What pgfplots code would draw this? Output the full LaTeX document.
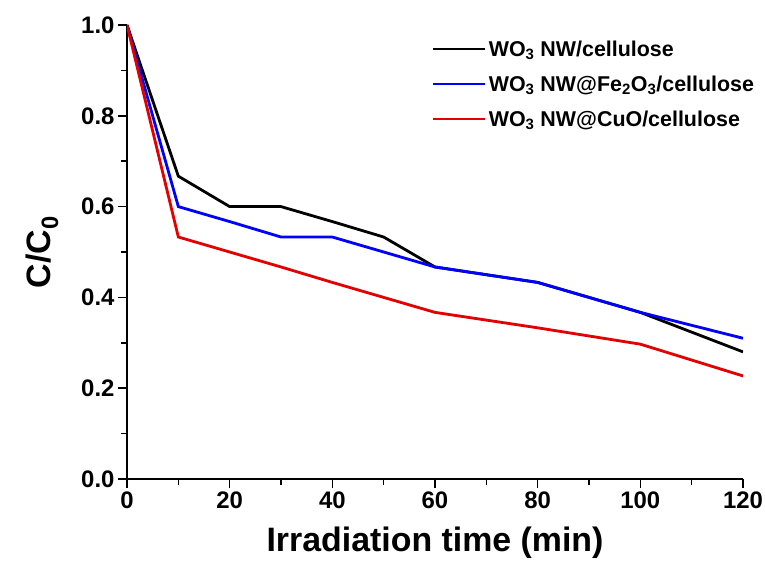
\documentclass[border=0pt]{standalone}
\usepackage{pgfplots}
\pgfplotsset{compat=1.18}
\usepackage{fontspec}
\setmainfont{Liberation Sans}
\begin{document}
\begin{tikzpicture}
\useasboundingbox (-127bp,-84bp) rectangle (638bp,479bp);
\begin{axis}[
  at={(0,0)}, anchor=south west,
  scale only axis, width=616bp, height=454bp,
  xmin=0, xmax=120, ymin=0, ymax=1.0,
  axis lines=left, axis line style={-, line width=1.6bp},
  xtick={0,20,...,120}, minor xtick={10,30,...,110},
  ytick={0,0.2,...,1.0}, minor ytick={0.1,0.3,...,0.9},
  tick align=outside, tick pos=left,
  major tick length=9bp, minor tick length=6bp,
  tick style={black, line width=1.6bp},
  /pgf/number format/assume math mode=true,
  yticklabel style={/pgf/number format/.cd, fixed, fixed zerofill, precision=1},
  ticklabel style={font=\fontsize{24}{27}\selectfont\bfseries},
  xlabel={Irradiation time (min)},
  ylabel={C/C\textsubscript{0}},
  label style={font=\fontsize{34}{38}\selectfont\bfseries},
  xlabel style={yshift=-12bp},
  ylabel style={yshift=16bp},
  legend style={draw=none, fill=none, at={(0.49,0.975)}, anchor=north west,
    font=\fontsize{21.5}{23}\selectfont\bfseries, row sep=14bp},
  legend cell align=left,
  legend image code/.code={\draw[#1] (0bp,0bp) -- (52bp,0bp);},
]
\addplot[black, line width=2.8bp] coordinates {(0,1) (10,0.667) (20,0.6) (30,0.6) (40,0.567) (50,0.533) (60,0.467) (80,0.433) (100,0.367) (120,0.28)};
\addlegendentry{WO\textsubscript{3} NW/cellulose}
\addplot[blue, line width=2.8bp] coordinates {(0,1) (10,0.6) (20,0.567) (30,0.533) (40,0.533) (50,0.5) (60,0.467) (80,0.433) (100,0.367) (120,0.31)};
\addlegendentry{WO\textsubscript{3} NW@Fe\textsubscript{2}O\textsubscript{3}/cellulose}
\addplot[red!90!black, line width=2.8bp] coordinates {(0,1) (10,0.533) (20,0.5) (30,0.467) (40,0.433) (50,0.4) (60,0.367) (80,0.333) (100,0.297) (120,0.227)};
\addlegendentry{WO\textsubscript{3} NW@CuO/cellulose}
\end{axis}
\end{tikzpicture}
\end{document}
